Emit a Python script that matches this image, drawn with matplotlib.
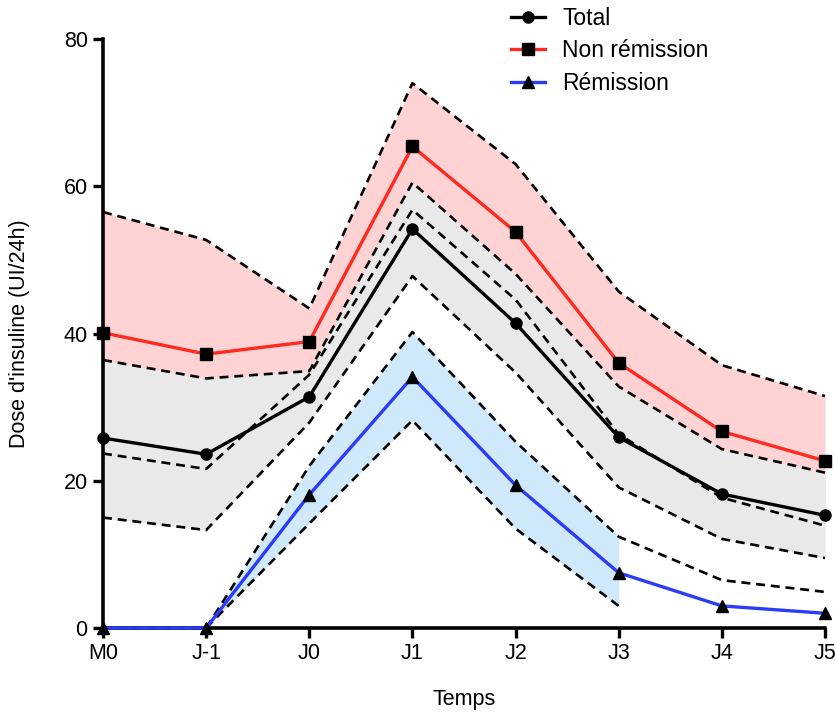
import numpy as np
import matplotlib.pyplot as plt

plt.rcParams['font.family'] = ['Liberation Sans', 'DejaVu Sans']

# Data
temps = ['M0', 'J-1', 'J0', 'J1', 'J2', 'J3', 'J4', 'J5']

total = [25.8, 23.6, 31.4, 54.2, 41.4, 25.9, 18.2, 15.3]
total_haut = [36.4, 33.9, 34.9, 60.5, 48.1, 32.8, 24.3, 21.1]
total_bas = [15.0, 13.3, 27.9, 47.8, 34.7, 19.1, 12.1, 9.5]

non_rem = [40.1, 37.2, 38.9, 65.4, 53.8, 36.0, 26.7, 22.7]
non_rem_haut = [56.5, 52.7, 43.4, 74.0, 63.0, 45.7, 35.7, 31.5]
non_rem_bas = [23.7, 21.6, 34.4, 56.8, 44.6, 26.3, 17.7, 13.9]

rem = [0, 0, 18.1, 34.1, 19.4, 7.5, 3.0, 2.0]
rem_haut = [0, 0, 22.0, 40.2, 25.3, 12.4, 6.5, 4.9]
rem_bas = [0, 0, 14.2, 28.2, 13.5, 3.0]  # M0..J3 seulement

x = np.arange(len(temps))
xb = x[:len(rem_bas)]

fig = plt.figure(figsize=(8.35, 7.13), dpi=100)
ax = fig.add_axes([103 / 835, 1 - 628 / 713, 722 / 835, 589 / 713])

# Bandes
ax.fill_between(x, non_rem_bas, non_rem_haut, color='#FFD3D3', lw=0, zorder=1)
ax.fill_between(x, total_bas, total_haut, color='#E9E9E9', lw=0, zorder=2)
ax.fill_between(xb, rem_bas, rem_haut[:len(xb)], color='#CFE8FA', lw=0, zorder=3)

dash = dict(color='black', lw=1.9, dashes=(3.4, 2.2), zorder=4, clip_on=False)
for y in [non_rem_haut, non_rem_bas, total_haut, total_bas, rem_haut]:
    ax.plot(x, y, **dash)
ax.plot(xb, rem_bas, **dash)

# Courbes
ax.plot(x, rem, color='#2B3CF6', lw=2.4, marker='^', ms=8, mfc='black', mec='black',
        zorder=6, clip_on=False, label='Rémission')
ax.plot(x, non_rem, color='#FF2A1F', lw=2.4, marker='s', ms=8, mfc='black', mec='black',
        zorder=6, clip_on=False, label='Non rémission')
ax.plot(x, total, color='black', lw=2.4, marker='o', ms=8, mfc='black', mec='black',
        zorder=6, clip_on=False, label='Total')

ax.set_xlim(0, 7)
ax.set_ylim(0, 80)
ax.set_xticks(x)
ax.set_xticklabels(temps)
ax.set_yticks([0, 20, 40, 60, 80])
for s in ['top', 'right']:
    ax.spines[s].set_visible(False)
for s in ['left', 'bottom']:
    ax.spines[s].set_linewidth(2.6)
    ax.spines[s].set_zorder(5)
ax.tick_params(length=7, width=2.4, labelsize=15.5, pad=4, colors='black')
ax.set_xlabel('Temps', fontsize=15.5, labelpad=18)
ax.set_ylabel("Dose d'insuline (UI/24h)", fontsize=15.5, labelpad=24)

h, l = ax.get_legend_handles_labels()
fig.legend(h[::-1], l[::-1], loc='upper left', bbox_to_anchor=(497 / 835, 1.01),
           frameon=False, fontsize=16.5, handlelength=1.5, handletextpad=0.75,
           labelspacing=0.42, borderaxespad=0.2)

fig.savefig('out.png', dpi=100)
